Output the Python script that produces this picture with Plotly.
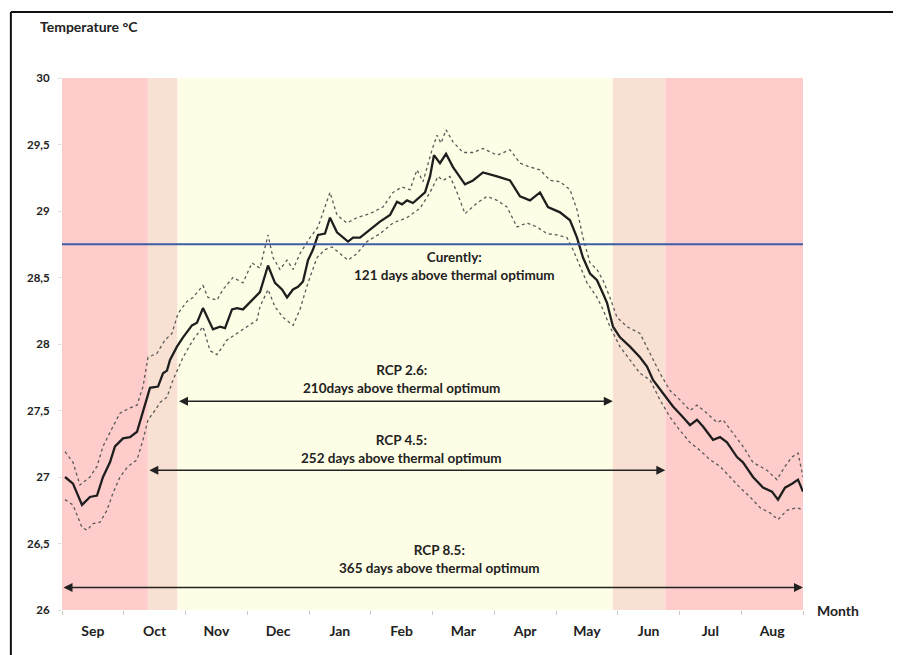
import plotly.graph_objects as go

# ---------------- data (x in months since 1 Sep, y in °C) ----------------
months = ["Sep", "Oct", "Nov", "Dec", "Jan", "Feb", "Mar", "Apr", "May", "Jun", "Jul", "Aug"]
month_centers = [0.5, 1.5, 2.5, 3.5, 4.5, 5.5, 6.5, 7.5, 8.5, 9.5, 10.5, 11.5]
month_bounds = [0, 1, 2, 3, 4, 5, 6, 7, 8, 9, 10, 11, 12]

y_tickvals = [26, 26.5, 27, 27.5, 28, 28.5, 29, 29.5, 30]
y_ticktext = ["26", "26,5", "27", "27,5", "28", "28,5", "29", "29,5", "30"]

mean_x = [0.049, 0.178, 0.324, 0.453, 0.567, 0.664, 0.777, 0.858, 0.988, 1.101, 1.215, 1.312,
          1.425, 1.555, 1.636, 1.700, 1.749, 1.862, 1.960, 2.105, 2.186, 2.283, 2.445, 2.559,
          2.640, 2.753, 2.834, 2.931, 3.077, 3.206, 3.336, 3.449, 3.563, 3.644, 3.741, 3.822,
          3.903, 3.984, 4.065, 4.146, 4.259, 4.340, 4.453, 4.551, 4.632, 4.713, 4.826, 4.988,
          5.150, 5.312, 5.425, 5.506, 5.587, 5.684, 5.798, 5.879, 5.960, 6.024, 6.121, 6.219,
          6.332, 6.526, 6.656, 6.818, 7.045, 7.255, 7.417, 7.579, 7.741, 7.870, 8.065, 8.227,
          8.340, 8.437, 8.551, 8.664, 8.761, 8.826, 8.923, 9.036, 9.198, 9.360, 9.474, 9.571,
          9.733, 9.895, 10.057, 10.170, 10.283, 10.381, 10.543, 10.656, 10.769, 10.931, 11.028,
          11.190, 11.352, 11.498, 11.595, 11.709, 11.822, 11.919, 12.0]
mean_t = [27.00, 26.95, 26.79, 26.85, 26.86, 27.00, 27.11, 27.23, 27.29, 27.30, 27.34, 27.50,
          27.67, 27.68, 27.78, 27.80, 27.88, 27.98, 28.05, 28.14, 28.16, 28.27, 28.11, 28.13,
          28.12, 28.26, 28.27, 28.26, 28.33, 28.39, 28.59, 28.46, 28.41, 28.35, 28.41, 28.43,
          28.47, 28.63, 28.71, 28.82, 28.83, 28.95, 28.84, 28.80, 28.77, 28.80, 28.80, 28.86,
          28.92, 28.97, 29.07, 29.05, 29.08, 29.06, 29.11, 29.14, 29.26, 29.42, 29.36, 29.43,
          29.33, 29.20, 29.23, 29.29, 29.26, 29.23, 29.11, 29.08, 29.14, 29.03, 28.99, 28.93,
          28.80, 28.65, 28.53, 28.48, 28.38, 28.31, 28.13, 28.05, 27.98, 27.90, 27.83, 27.73,
          27.63, 27.53, 27.45, 27.39, 27.43, 27.38, 27.28, 27.30, 27.26, 27.15, 27.11,
          27.00, 26.92, 26.89, 26.83, 26.92, 26.95, 26.98, 26.89]

upper_x = [0.049, 0.178, 0.291, 0.453, 0.567, 0.664, 0.826, 0.939, 1.101, 1.215, 1.312, 1.393,
           1.538, 1.668, 1.781, 1.879, 2.024, 2.121, 2.283, 2.364, 2.510, 2.607, 2.769, 2.931,
           3.077, 3.206, 3.336, 3.417, 3.530, 3.644, 3.741, 3.854, 4.016, 4.146, 4.340, 4.453,
           4.615, 4.777, 4.988, 5.198, 5.360, 5.506, 5.636, 5.749, 5.846, 5.992, 6.073, 6.138,
           6.219, 6.332, 6.494, 6.656, 6.818, 7.045, 7.255, 7.417, 7.579, 7.741, 7.903, 8.065,
           8.227, 8.340, 8.437, 8.551, 8.664, 8.761, 8.874, 8.988, 9.150, 9.360, 9.522, 9.684,
           9.846, 10.008, 10.170, 10.283, 10.445, 10.607, 10.704, 10.866, 11.028, 11.190,
           11.417, 11.579, 11.709, 11.822, 11.919, 12.0]
upper_t = [27.19, 27.11, 26.94, 27.00, 27.08, 27.23, 27.38, 27.48, 27.52, 27.54, 27.68, 27.90,
           27.93, 28.03, 28.08, 28.23, 28.32, 28.35, 28.44, 28.35, 28.33, 28.41, 28.50, 28.46,
           28.61, 28.57, 28.82, 28.65, 28.56, 28.63, 28.56, 28.68, 28.80, 28.88, 29.14, 28.97,
           28.91, 28.95, 28.98, 29.03, 29.14, 29.18, 29.16, 29.31, 29.22, 29.46, 29.57, 29.51,
           29.61, 29.52, 29.44, 29.44, 29.47, 29.42, 29.46, 29.36, 29.33, 29.31, 29.23, 29.22,
           29.16, 29.01, 28.80, 28.61, 28.56, 28.48, 28.35, 28.20, 28.13, 28.08, 27.93, 27.78,
           27.65, 27.58, 27.50, 27.54, 27.48, 27.41, 27.43, 27.33, 27.23, 27.11,
           27.05, 26.98, 27.08, 27.15, 27.18, 27.00]

lower_x = [0.049, 0.178, 0.324, 0.405, 0.502, 0.615, 0.729, 0.826, 0.939, 1.069, 1.215, 1.312,
           1.393, 1.506, 1.587, 1.700, 1.798, 1.960, 2.121, 2.283, 2.397, 2.510, 2.672, 2.834,
           2.996, 3.158, 3.206, 3.336, 3.449, 3.579, 3.741, 3.854, 3.984, 4.130, 4.259, 4.372,
           4.502, 4.632, 4.777, 4.939, 5.150, 5.360, 5.587, 5.798, 5.960, 6.089, 6.170, 6.283,
           6.397, 6.526, 6.721, 6.883, 7.045, 7.206, 7.368, 7.530, 7.692, 7.854, 8.016, 8.178,
           8.275, 8.389, 8.502, 8.664, 8.761, 8.874, 9.036, 9.198, 9.360, 9.522, 9.684, 9.846,
           10.008, 10.170, 10.332, 10.494, 10.656, 10.818, 10.980, 11.142, 11.304, 11.466,
           11.595, 11.741, 11.903, 12.0]
lower_t = [26.83, 26.79, 26.62, 26.60, 26.65, 26.66, 26.75, 26.88, 27.00, 27.08, 27.13, 27.28,
           27.43, 27.50, 27.56, 27.60, 27.73, 27.90, 28.03, 28.13, 27.95, 27.92, 28.03, 28.08,
           28.13, 28.18, 28.28, 28.41, 28.28, 28.20, 28.14, 28.26, 28.46, 28.65, 28.71, 28.73,
           28.68, 28.63, 28.68, 28.77, 28.83, 28.91, 28.95, 29.02, 29.14, 29.26, 29.23, 29.26,
           29.14, 28.98, 29.06, 29.11, 29.08, 29.03, 28.88, 28.91, 28.88, 28.83, 28.82, 28.80,
           28.71, 28.58, 28.46, 28.35, 28.26, 28.13, 27.98, 27.88, 27.78, 27.73, 27.58, 27.45,
           27.35, 27.26, 27.20, 27.13, 27.08, 27.00, 26.92, 26.85, 26.77, 26.73,
           26.68, 26.75, 26.77, 26.75]

thermal_optimum = 28.75

# background bands (start, end, colour)
band_start = [0, 1.39, 1.87, 8.92, 9.77]
band_end = [1.39, 1.87, 8.92, 9.77, 12]
band_color = ["#FFCCCC", "#F8E0D2", "#FEFEE6", "#F8E0D2", "#FFCCCC"]

# scenario arrows
arrow_labels = ["RCP 2.6:<br>210days above thermal optimum",
                "RCP 4.5:<br>252 days above thermal optimum",
                "RCP 8.5:<br>365 days above thermal optimum"]
arrow_y = [27.57, 27.05, 26.17]
arrow_x0 = [1.87, 1.39, 0.0]
arrow_x1 = [8.92, 9.77, 12.0]
label_x = [5.49, 5.49, 6.12]
label_y = [27.74, 27.21, 26.38]

current_label = "Curently:<br>121 days above thermal optimum"
current_x = 6.35
current_y = 28.59

FONT = "Lato"

fig = go.Figure()

for x0, x1, c in zip(band_start, band_end, band_color):
    fig.add_shape(type="rect", xref="x", yref="y", x0=x0, x1=x1, y0=26, y1=30,
                  fillcolor=c, line=dict(width=0), layer="below")

fig.add_trace(go.Scatter(x=upper_x, y=upper_t, mode="lines",
                         line=dict(color="#5a5a5a", width=1.3, dash="dot"), showlegend=False))
fig.add_trace(go.Scatter(x=lower_x, y=lower_t, mode="lines",
                         line=dict(color="#5a5a5a", width=1.3, dash="dot"), showlegend=False))
fig.add_trace(go.Scatter(x=mean_x, y=mean_t, mode="lines",
                         line=dict(color="#1e1e1e", width=2.3), showlegend=False))
fig.add_trace(go.Scatter(x=[0, 12], y=[thermal_optimum, thermal_optimum], mode="lines",
                         line=dict(color="#3d5da6", width=2), showlegend=False))

font_txt = dict(family=FONT, size=13.5, color="#222", weight="bold")

for x0, x1, y in zip(arrow_x0, arrow_x1, arrow_y):
    fig.add_annotation(x=x1, y=y, ax=x0, ay=y, xref="x", yref="y", axref="x", ayref="y",
                       text="", showarrow=True, arrowside="end+start", arrowhead=2,
                       arrowsize=1.2, arrowwidth=1.5, arrowcolor="#222")

for t, x, y in zip(arrow_labels, label_x, label_y):
    fig.add_annotation(x=x, y=y, xref="x", yref="y", text=t, showarrow=False,
                       font=font_txt, align="center")

fig.add_annotation(x=current_x, y=current_y, xref="x", yref="y", text=current_label,
                   showarrow=False, font=font_txt, align="center")

fig.add_annotation(x=-0.032, y=1.096, xref="paper", yref="paper", text="Temperature °C",
                   showarrow=False, xanchor="left", yanchor="middle",
                   font=dict(family=FONT, size=14, color="#222", weight="bold"))
fig.add_annotation(x=1.016, y=0.0, xref="paper", yref="paper", text="Month",
                   showarrow=False, xanchor="left", yanchor="middle",
                   font=dict(family=FONT, size=14, color="#222", weight="bold"))

# frame around the picture
fig.add_shape(type="line", xref="paper", yref="paper", x0=-0.069, x1=1.2, y0=1.124, y1=1.124,
              line=dict(color="#111", width=2))
fig.add_shape(type="line", xref="paper", yref="paper", x0=-0.069, x1=-0.069, y0=-0.2, y1=1.124,
              line=dict(color="#111", width=2))

fig.update_layout(
    width=893, height=647,
    margin=dict(l=54, r=98, t=70, b=45),
    paper_bgcolor="white", plot_bgcolor="white",
    font=dict(family=FONT, size=12, color="#222"),
    xaxis=dict(range=[0, 12], tickvals=month_centers, ticktext=months, ticks="",
               showgrid=False, zeroline=False, showline=False,
               tickfont=dict(family=FONT, size=14, color="#222", weight="bold"),
               ticklabelstandoff=11,
               minor=dict(tickvals=month_bounds, ticks="outside", ticklen=4,
                          tickcolor="#c8c8c8", showgrid=False)),
    yaxis=dict(range=[26, 30], tickvals=y_tickvals, ticktext=y_ticktext, ticks="outside",
               ticklen=3, tickcolor="#dddddd", showgrid=False, zeroline=False, showline=False,
               tickfont=dict(family=FONT, size=11.5, color="#222", weight="bold"),
               ticklabelstandoff=6),
)

fig.write_html("out.html")
